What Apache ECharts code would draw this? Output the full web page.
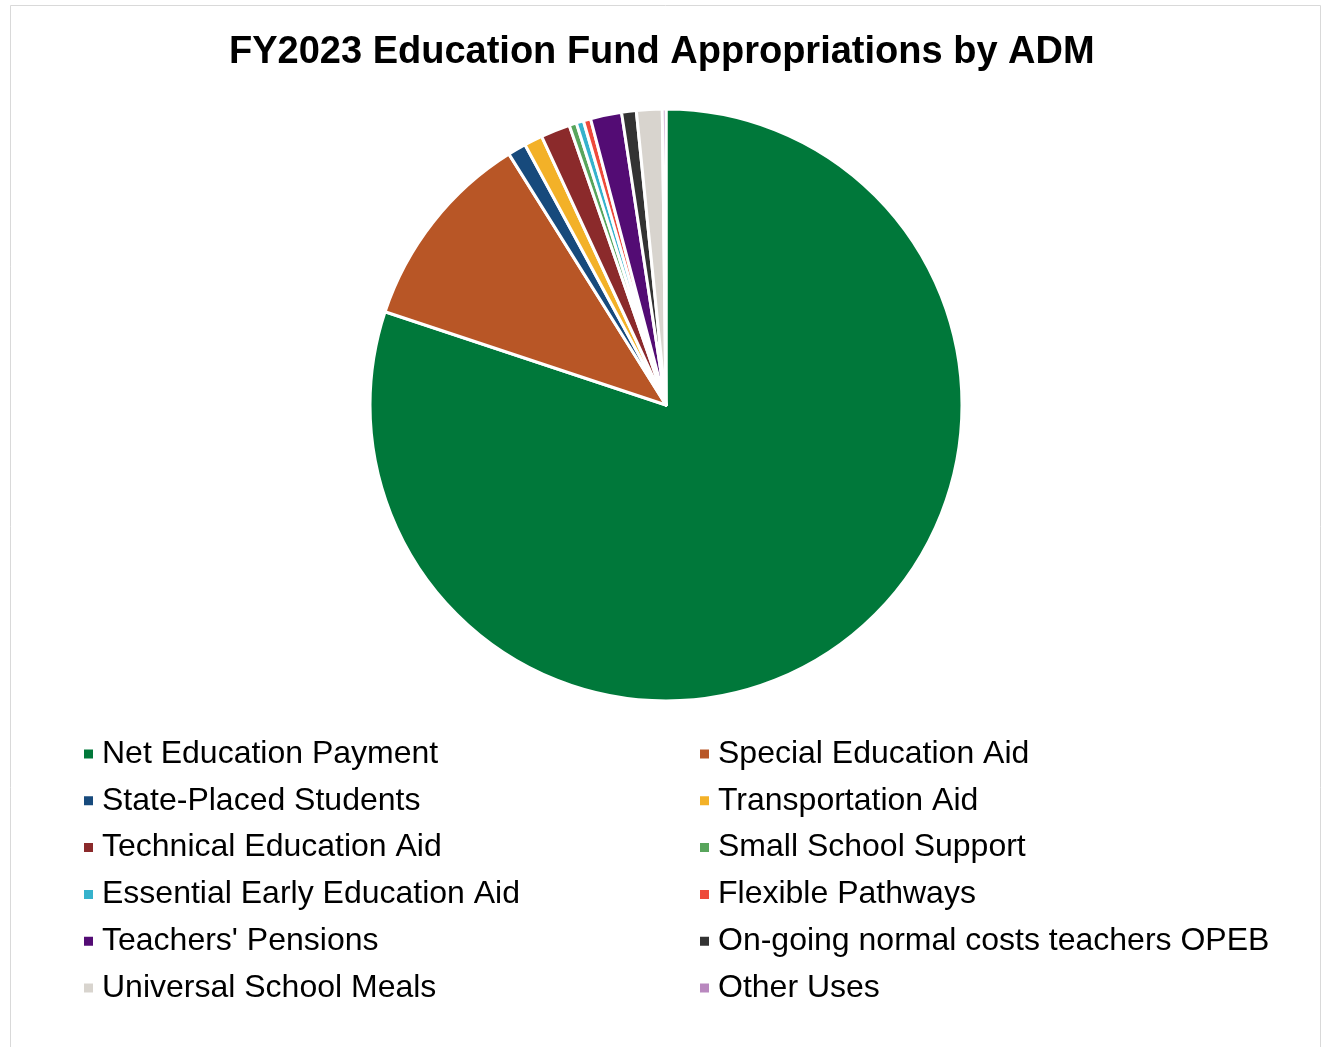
<!DOCTYPE html>
<html>
<head>
<meta charset="utf-8">
<title>FY2023 Education Fund Appropriations by ADM</title>
<script src="https://cdn.jsdelivr.net/npm/echarts@6/dist/echarts.min.js"></script>
<style>
  html, body { margin: 0; padding: 0; background: #ffffff; }
  #chart { width: 1323px; height: 1047px; }
</style>
</head>
<body>
<div id="chart"></div>
<script>
// Appropriation categories, in slice order (clockwise from 12 o'clock)
const categories = [
  "Net Education Payment",
  "Special Education Aid",
  "State-Placed Students",
  "Transportation Aid",
  "Technical Education Aid",
  "Small School Support",
  "Essential Early Education Aid",
  "Flexible Pathways",
  "Teachers' Pensions",
  "On-going normal costs teachers OPEB",
  "Universal School Meals",
  "Other Uses"
];

// Share of the fund, percent
const shares = [80.1, 11.0, 1.0, 1.0, 1.6, 0.4, 0.4, 0.4, 1.7, 0.8, 1.4, 0.2];

const colors = [
  "#00783A", "#B85626", "#174A7C", "#F3B128", "#8B2A2B", "#58A55C",
  "#36B2CC", "#EE4B3B", "#530C74", "#333333", "#D8D4CE", "#B988BF"
];

// Legend columns
const leftColumn = [0, 2, 4, 6, 8, 10].map(i => categories[i]);
const rightColumn = [1, 3, 5, 7, 9, 11].map(i => categories[i]);

const chart = echarts.init(document.getElementById("chart"), null, { renderer: "canvas" });

const legendText = {
  fontFamily: "Liberation Sans, Arial, sans-serif",
  fontSize: 32,
  color: "#000000",
  lineHeight: 36,
  padding: [0, 0, 0, 3]
};

function makeLegend(names, left) {
  return {
    orient: "vertical",
    left: left,
    top: 736,
    padding: 0,
    data: names,
    icon: "rect",
    itemWidth: 11,
    itemHeight: 11,
    itemGap: 10.8,
    selectedMode: false,
    textStyle: legendText
  };
}

chart.setOption({
  animation: false,
  color: colors,
  title: {
    text: "FY2023 Education Fund Appropriations by ADM",
    left: 229,
    top: 34,
    padding: 0,
    textStyle: {
      fontFamily: "Liberation Sans, Arial, sans-serif",
      fontWeight: "bold",
      fontSize: 38,
      color: "#000000"
    }
  },
  graphic: [{
    type: "rect",
    shape: { x: 10.5, y: 5.5, width: 1310, height: 1060 },
    style: { fill: null, stroke: "#d9d9d9", lineWidth: 1 },
    silent: true
  }],
  legend: [makeLegend(leftColumn, 82), makeLegend(rightColumn, 698)],
  series: [{
    type: "pie",
    center: [666, 405],
    radius: [0, 296],
    startAngle: 90,
    clockwise: true,
    label: { show: false },
    labelLine: { show: false },
    itemStyle: { borderColor: "#ffffff", borderWidth: 3 },
    emphasis: { disabled: true },
    data: categories.map((name, i) => ({ name: name, value: shares[i] }))
  }]
});
</script>
</body>
</html>
